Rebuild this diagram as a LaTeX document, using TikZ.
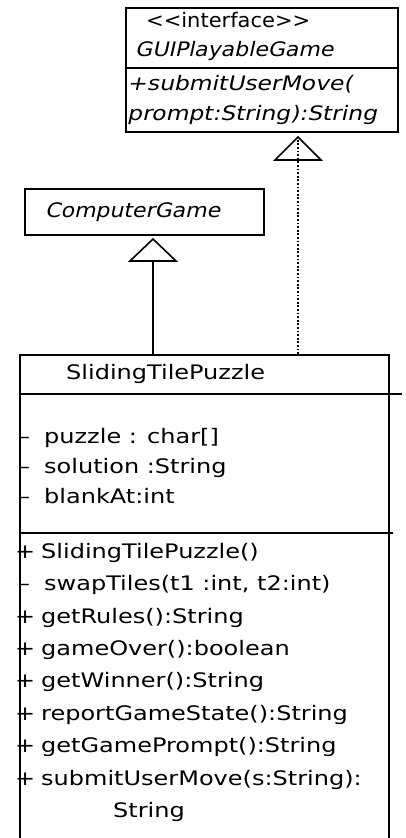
\documentclass[tikz,border=0pt]{standalone}
\usepackage{fontspec}
\setmainfont{DejaVu Sans}
\newfontfamily\clsfont[FakeStretch=1.2]{DejaVu Sans}
\newfontfamily\cgfont[FakeStretch=1.1,FakeSlant=0.22]{DejaVu Sans}
\newfontfamily\iffont[FakeStretch=1.05]{DejaVu Sans}
\newfontfamily\ifitfont[FakeStretch=1.1,FakeSlant=0.22]{DejaVu Sans}
\newfontfamily\ifopfont[FakeStretch=1.17,FakeSlant=0.22]{DejaVu Sans}
\newcommand\visib[1]{\makebox[26pt][l]{#1}}
\tikzset{
  umlbox/.style={draw, line width=1.8pt, inner sep=0pt, anchor=north west},
  rule/.style={line width=1.8pt},
  txt/.style={inner sep=0pt, anchor=base west, font=\clsfont\fontsize{20}{24}\selectfont},
  cgtxt/.style={inner sep=0pt, anchor=base west, font=\cgfont\fontsize{20}{24}\selectfont},
  iftxt/.style={inner sep=0pt, anchor=base west, font=\iffont\fontsize{20}{24}\selectfont},
  ifit/.style={inner sep=0pt, anchor=base west, font=\ifitfont\fontsize{20}{24}\selectfont},
  ifop/.style={inner sep=0pt, anchor=base west, font=\ifopfont\fontsize{20}{24}\selectfont},
  solidline/.style={line width=1.8pt},
  dotline/.style={line width=1.8pt, dash pattern=on 1.8pt off 1.8pt},
  tri/.style={line width=1.6pt, line join=miter}
}
\begin{document}
\begin{tikzpicture}[x=1pt,y=-1pt]
\useasboundingbox (0,0) rectangle (405,838);
\clip (0,0) rectangle (405,838);
\fill[white] (0,0) rectangle (405,838);

% interface box
\node[umlbox, minimum width=272pt, minimum height=124pt] (iface) at (125,7) {};
\draw[rule] ([yshift=-61pt]iface.north west) -- ([yshift=-61pt]iface.north east);
\node[iftxt] (ifst) at (146,27) {<{}<interface>{}>};
\node[ifit] (ifname) at (135,56) {GUIPlayableGame};
\node[ifop] (ifop1) at (127,90) {+submitUserMove(};
\node[ifop] (ifop2) at (127,120) {prompt:String):String};

% ComputerGame box
\node[umlbox, minimum width=239pt, minimum height=46pt] (cg) at (24,188) {};
\node[cgtxt] (cgname) at (45,217) {ComputerGame};

% SlidingTilePuzzle box
\node[umlbox, minimum width=369pt, minimum height=540pt] (cls) at (19,354) {};
\draw[rule] ([yshift=-40pt]cls.north west) -- ([yshift=-40pt,xshift=12pt]cls.north east);
\draw[rule] ([yshift=-179pt]cls.north west) -- ([yshift=-179pt,xshift=3pt]cls.north east);
\node[txt] (clsname) at (66,379) {SlidingTilePuzzle};

\node[txt] (a1) at (18,443) {\visib{–}puzzle : char[]};
\node[txt] (a2) at (18,473) {\visib{–}solution :String};
\node[txt] (a3) at (18,503) {\visib{–}blankAt:int};

\node[txt] (m1) at (15,558) {\visib{+}SlidingTilePuzzle()};
\node[txt] (m2) at (18,590) {\visib{–}swapTiles(t1 :int, t2:int)};
\node[txt] (m3) at (15,623) {\visib{+}getRules():String};
\node[txt] (m4) at (15,655) {\visib{+}gameOver():boolean};
\node[txt] (m5) at (15,687) {\visib{+}getWinner():String};
\node[txt] (m6) at (15,720) {\visib{+}reportGameState():String};
\node[txt] (m7) at (15,752) {\visib{+}getGamePrompt():String};
\node[txt] (m8) at (15,785) {\visib{+}submitUserMove(s:String):};
\node[txt] (m9) at (113,817) {String};

% generalization ComputerGame
\coordinate (cgtip) at (153,239);
\draw[solidline] (cls.north -| cgtip) -- ([yshift=-22pt]cgtip);
\draw[tri] (cgtip) -- ++(-23,22) -- ++(46,0) -- cycle;

% realization GUIPlayableGame
\coordinate (iftip) at (298,137);
\draw[dotline] (cls.north -| iftip) -- (iftip);
\draw[tri] (iftip) -- ++(-23,23) -- ++(46,0) -- cycle;
\end{tikzpicture}
\end{document}
